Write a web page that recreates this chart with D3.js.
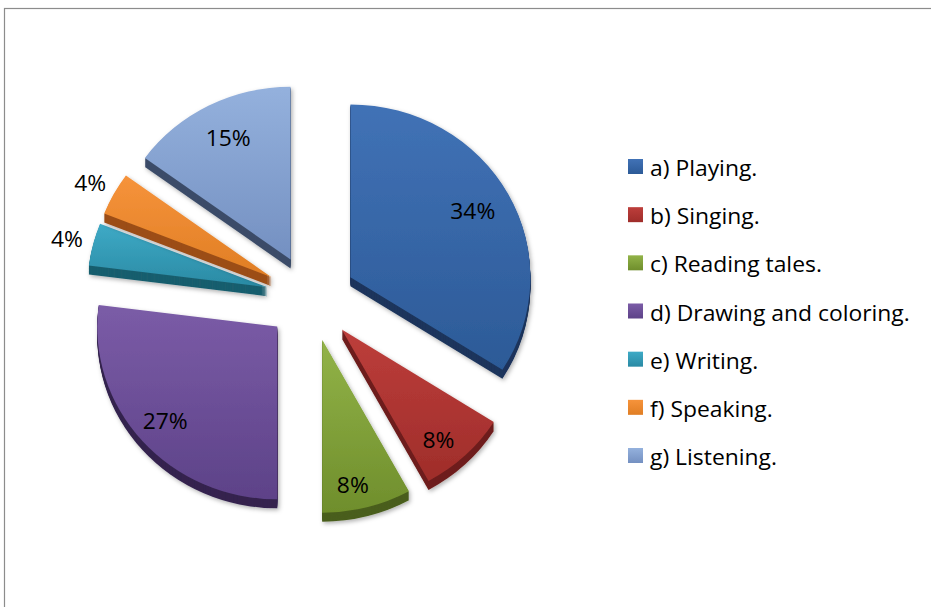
<!DOCTYPE html>
<html><head><meta charset="utf-8">
<script src="https://cdn.jsdelivr.net/npm/d3@7"></script>
<style>
body{margin:0;background:#fff}
svg{display:block}
text{font-family:"Open Sans",Lato,sans-serif;fill:#000}
</style>
</head><body>
<script>
// Activities and their shares (percent)
const categories = ["a) Playing.", "b) Singing.", "c) Reading tales.", "d) Drawing and coloring.", "e) Writing.", "f) Speaking.", "g) Listening."];
const values = [34, 8, 8, 27, 4, 4, 15];
const valueLabels = ["34%", "8%", "8%", "27%", "4%", "4%", "15%"];
const labelOutside = [false, false, false, false, true, true, false];

// Top-face gradient (light -> dark) and extruded side colours
const faceLight = ["#4172b6", "#bd3e3b", "#92b348", "#7b5ca7", "#3eaac6", "#f6933b", "#94b1dd"];
const faceDark  = ["#2c5a97", "#9f2d2a", "#6f8e2c", "#5d4288", "#2a8aa4", "#e07e24", "#7490c1"];
const sideColor = ["#1d355c", "#6e1e1c", "#4a5e1c", "#35244f", "#1a5e6e", "#9c4e17", "#3c4d69"];

const W = 931, H = 607;
const svg = d3.select("body").append("svg").attr("width", W).attr("height", H);

// chart frame (runs off the right and bottom edges)
svg.append("rect")
  .attr("x", 4.5).attr("y", 8.5).attr("width", W + 20).attr("height", H + 20)
  .attr("fill", "none").attr("stroke", "#8c8c8c").attr("stroke-width", 1.2);

const defs = svg.append("defs");
const shadow = defs.append("filter").attr("id", "shadow")
  .attr("x", "-20%").attr("y", "-20%").attr("width", "140%").attr("height", "140%");
shadow.append("feDropShadow").attr("dx", 1.5).attr("dy", 2).attr("stdDeviation", 2)
  .attr("flood-color", "#000").attr("flood-opacity", 0.3);

values.forEach((v, i) => {
  const g = defs.append("linearGradient").attr("id", "face" + i)
    .attr("x1", 0).attr("y1", 0).attr("x2", 0).attr("y2", 1);
  g.append("stop").attr("offset", "0%").attr("stop-color", faceLight[i]);
  g.append("stop").attr("offset", "100%").attr("stop-color", faceDark[i]);
});

const cx = 311, cy = 298, radius = 180, tilt = 0.96, explode = 45, depth = 9;
const textStretch = 1.09;   // slightly wide lettering

const arcs = d3.pie().sort(null).value(d => d)(values);
const arcGen = d3.arc().innerRadius(0).outerRadius(radius);

// screen offset of a point at angle a (clockwise from 12 o'clock) and distance r
const proj = (a, r, t = tilt) => [r * Math.sin(a), -r * t * Math.cos(a)];

const pieG = svg.append("g");
arcs.forEach((d, i) => {
  const mid = (d.startAngle + d.endAngle) / 2;
  const off = proj(mid, explode);
  const ax = cx + off[0], ay = cy + off[1];
  const sg = pieG.append("g").attr("filter", "url(#shadow)");
  // extruded body
  for (let s = depth; s >= 1; s--) {
    sg.append("path")
      .attr("transform", `translate(${ax},${ay + s}) scale(1,${tilt})`)
      .attr("d", arcGen(d))
      .attr("fill", sideColor[i]);
  }
  // top face
  sg.append("path")
    .attr("transform", `translate(${ax},${ay}) scale(1,${tilt})`)
    .attr("d", arcGen(d))
    .attr("fill", `url(#face${i})`);
  d.apex = [ax, ay];
  d.mid = mid;
});

// value labels: on the near (lower) side the label sits a little further out
// and turns slightly with the perspective
const labelSize = 21;
arcs.forEach((d, i) => {
  const near = Math.max(0, -Math.cos(d.mid));
  const a = d.mid + near * 2.5 * Math.PI / 180;
  const p = labelOutside[i]
    ? proj(d.mid, radius * 1.15)
    : proj(a, radius * (0.79 - 0.03 * Math.cos(d.mid)), 1);
  svg.append("g")
    .attr("transform", `translate(${d.apex[0] + p[0]},${d.apex[1] + p[1] + labelSize * 0.36 + 1.5}) scale(${textStretch},1)`)
    .append("text")
    .attr("text-anchor", "middle")
    .attr("font-size", labelSize)
    .text(valueLabels[i]);
});

// legend
const legY = d3.scalePoint().domain(categories).range([166.5, 455.5]);
const leg = svg.append("g");
categories.forEach((c, i) => {
  const y = legY(c);
  const lg = defs.append("linearGradient").attr("id", "leg" + i)
    .attr("x1", 0).attr("y1", 0).attr("x2", 0).attr("y2", 1);
  lg.append("stop").attr("offset", "0%").attr("stop-color", faceLight[i]);
  lg.append("stop").attr("offset", "100%").attr("stop-color", faceDark[i]);
  leg.append("rect").attr("x", 628).attr("y", y - 7.5).attr("width", 15).attr("height", 15)
    .attr("fill", `url(#leg${i})`);
  leg.append("g")
    .attr("transform", `translate(650,${y + 9.5}) scale(${textStretch},1)`)
    .append("text")
    .attr("font-size", 21).text(c);
});
</script>
</body></html>
